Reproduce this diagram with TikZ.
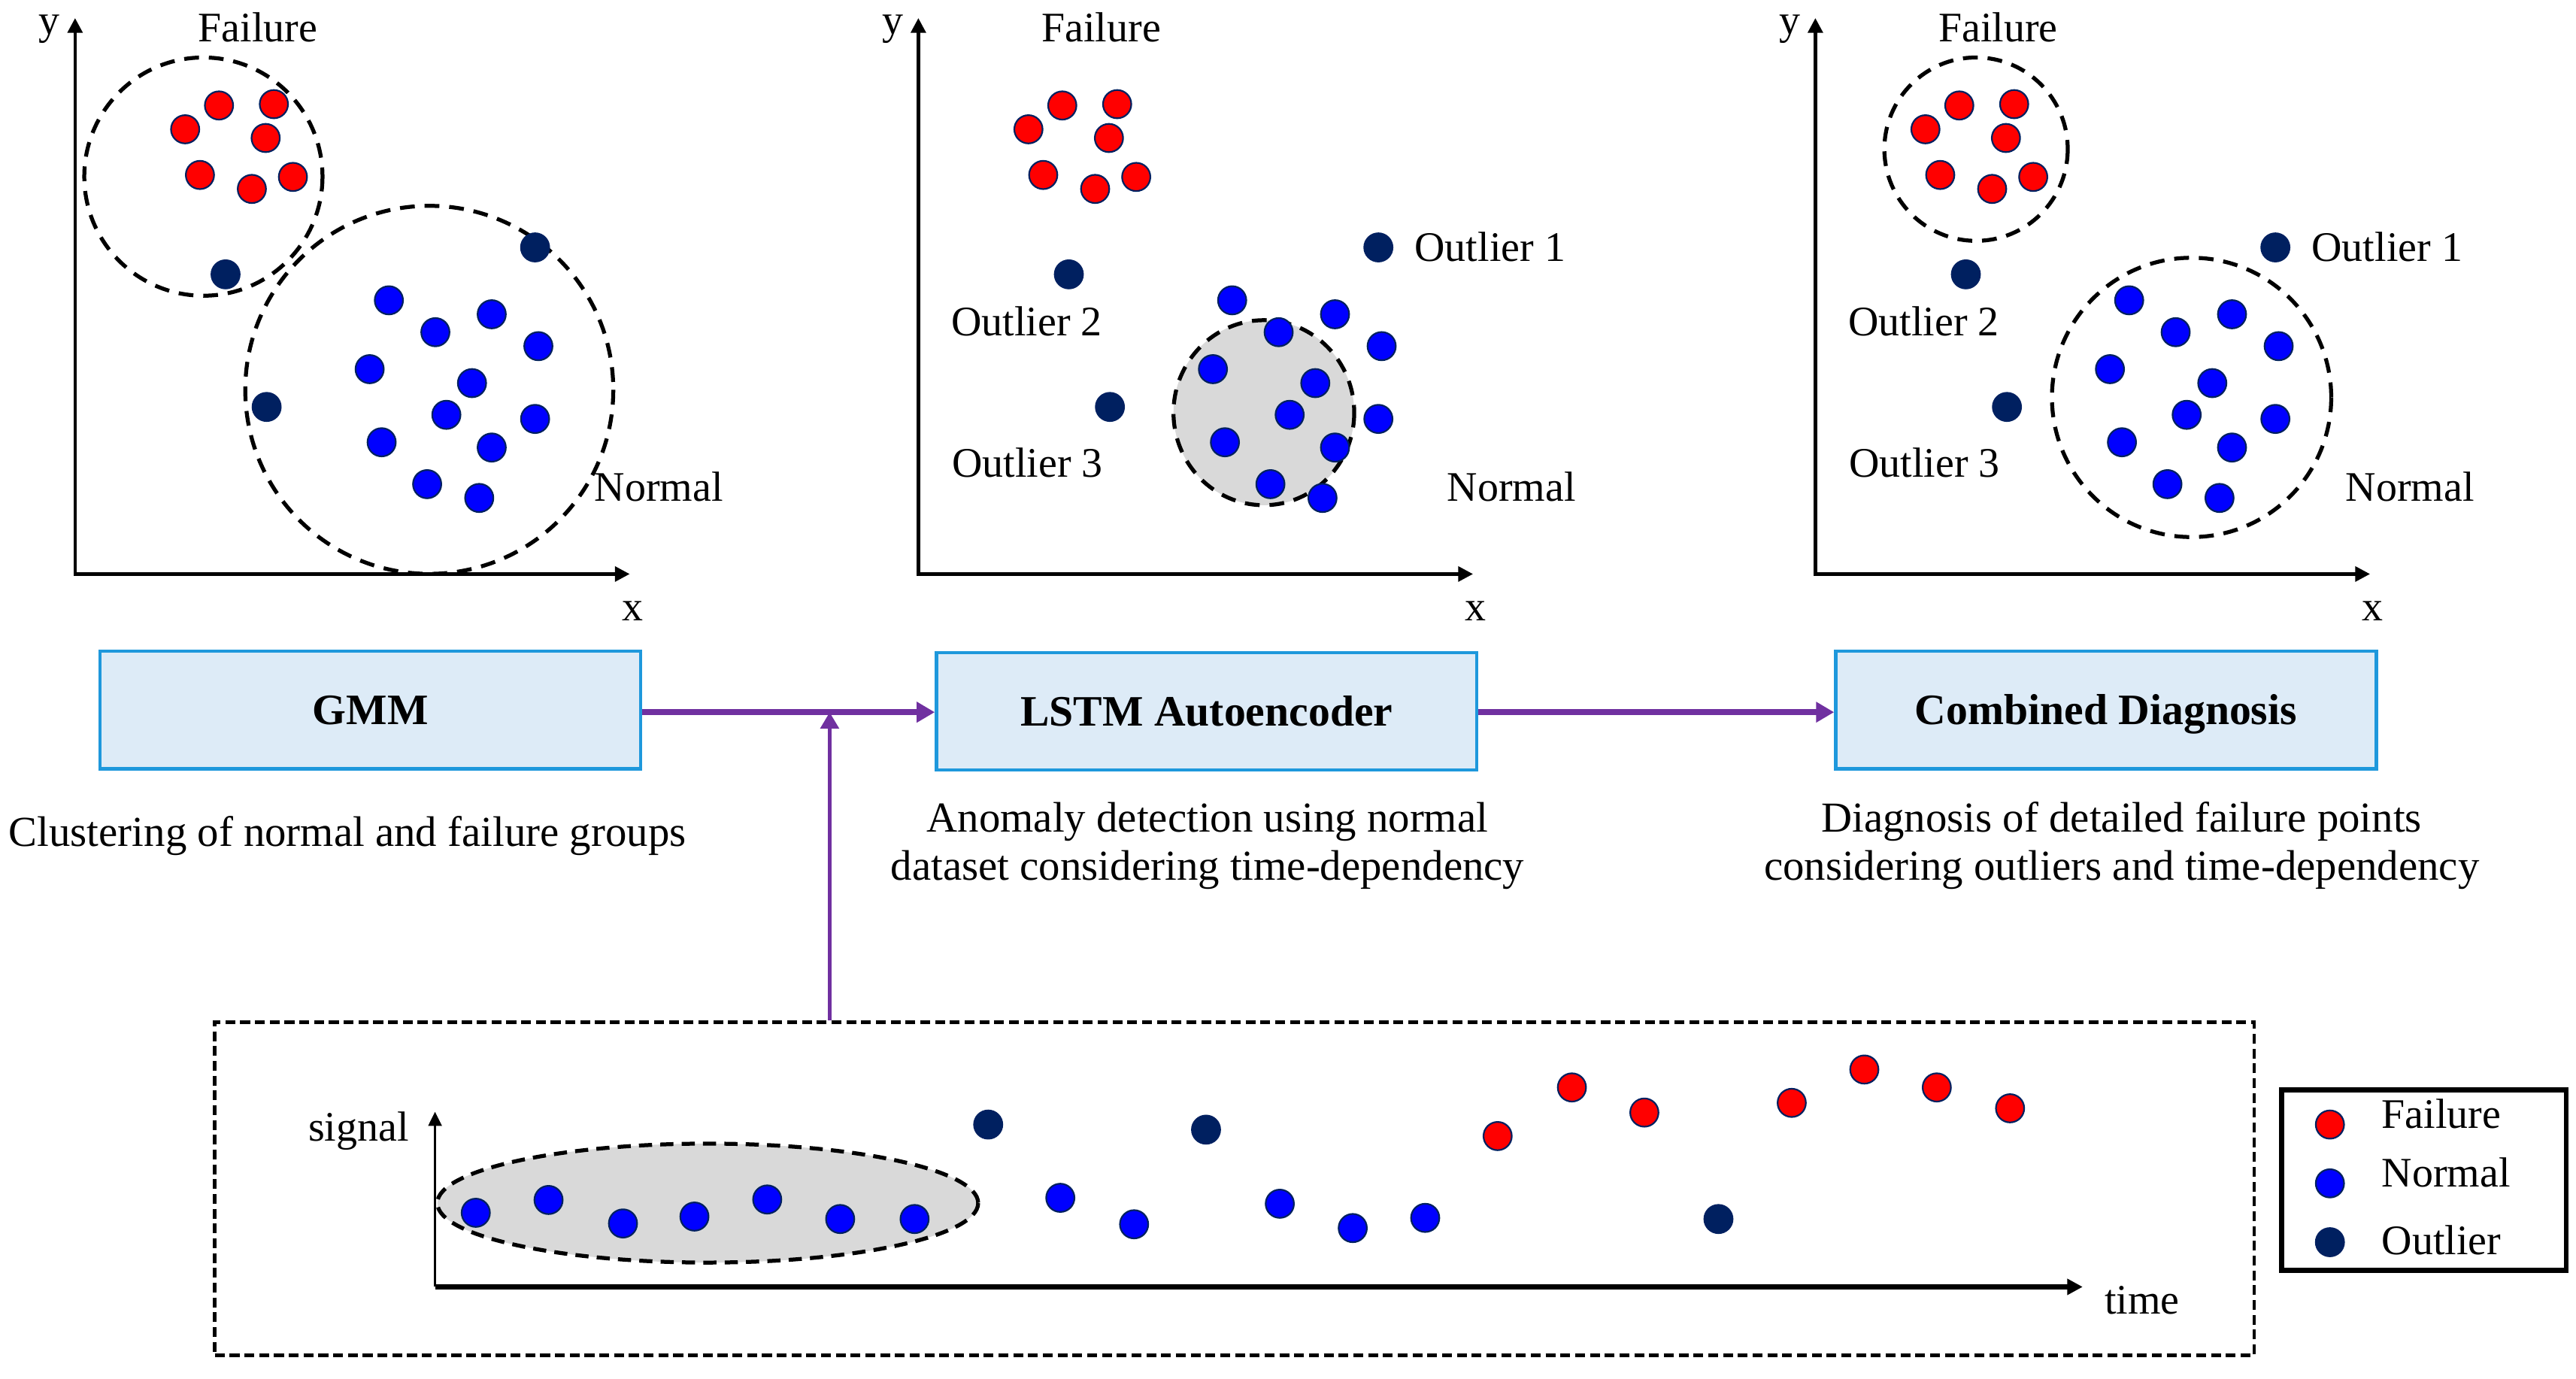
\documentclass[tikz,border=0pt]{standalone}
\usepackage{fontspec}
\setmainfont{Liberation Serif}
\usetikzlibrary{arrows.meta}
\definecolor{navy}{HTML}{002060}
\definecolor{purp}{HTML}{7030A0}
\definecolor{boxfill}{HTML}{DDEBF7}
\definecolor{boxline}{HTML}{1E98DC}
\definecolor{grayfill}{HTML}{D9D9D9}
\newcommand\mypanel[2]{%
 \begin{scope}[shift={(#2,0)}]
  \coordinate (#1o) at (45.7,349.4);
  \coordinate (#1yt) at (45.7,11);
  \coordinate (#1xt) at (383.3,349.4);
  \draw[axisline] (#1yt) -- (#1o) -- (#1xt);
  \node[lbl] (#1ylab) at (30,21) {y};
  \node[lbl] (#1xlab) at (385,378) {x};
  \node[lbl] (#1fail) at (157,25.5) {Failure};
  \foreach \p [count=\i] in {(133.3,64.2),(166.7,63.4),(112.7,78.7),(161.7,84),(121.7,106.5),(153.3,115),(178.3,107.7)}
    \node[fdot] (#1r\i) at \p {};
  \foreach \p [count=\i] in {(236.7,182.8),(299.3,191.3),(265,202.2),(327.7,210.7),(225,224.7),(287.3,233.2),(271.7,252.5),(325.7,255),(232.3,269.2),(299.3,272.4),(260,294.7),(291.7,303.1)}
    \node[ndot] (#1b\i) at \p {};
  \foreach \p [count=\i] in {(137.3,167),(325.7,150.6),(162.3,247.7)}
    \node[odot] (#1u\i) at \p {};
 \end{scope}}
\begin{document}
\begin{tikzpicture}[x=0.5pt,y=-0.5pt,
  lbl/.style={font=\fontsize{12.8pt}{14.5pt}\selectfont, inner sep=0pt, anchor=base},
  captext/.style={font=\fontsize{13pt}{14.5pt}\selectfont, inner sep=0pt, anchor=base, align=center},
  dotbase/.style={circle, inner sep=0pt, minimum size=8.6pt, draw=navy, line width=0.5pt},
  fdot/.style={dotbase, fill=red},
  ndot/.style={dotbase, fill=blue},
  odot/.style={dotbase, fill=navy},
  axisline/.style={line width=1pt, {Triangle[length=4.5pt,width=4.5pt]}-{Triangle[length=4.5pt,width=4.5pt]}},
  clus/.style={line width=1.2pt, dash pattern=on 4.5pt off 3pt},
  procbox/.style={draw=boxline, fill=boxfill, line width=1pt, minimum width=164.5pt, minimum height=35.8pt, inner sep=0pt, text height=8.9pt, text depth=0pt, font=\fontsize{13.2pt}{15pt}\selectfont\bfseries},
  parrow/.style={purp, line width=1.8pt, -{Triangle[length=5.5pt,width=6pt]}},
  pthin/.style={purp, line width=1.3pt, -{Triangle[length=5pt,width=5.5pt]}},
]
\useasboundingbox (0,0) rectangle (1568,839);

% cluster circles
\draw[clus] (123.8,107.5) circle [radius=72.5];
\draw[clus] (261.3,237.3) circle [radius=112];
\draw[clus, fill=grayfill] (769.3,251.2) ellipse [x radius=55, y radius=56.3];
\draw[clus] (1202.8,90.8) circle [radius=55.8];
\draw[clus] (1334,241.9) circle [radius=85];

% three panels
\mypanel{pa}{0}
\mypanel{pb}{513.3}
\mypanel{pc}{1059.3}

% panel labels
\node[lbl] (paN) at (401,305) {Normal};
\node[lbl] (pbO1) at (907,159) {Outlier 1};
\node[lbl] (pbO2) at (625,204.5) {Outlier 2};
\node[lbl] (pbO3) at (625.5,290.5) {Outlier 3};
\node[lbl] (pbN) at (920,305) {Normal};
\node[lbl] (pcO1) at (1453,159) {Outlier 1};
\node[lbl] (pcO2) at (1171,204.5) {Outlier 2};
\node[lbl] (pcO3) at (1171.5,290.5) {Outlier 3};
\node[lbl] (pcN) at (1467,305) {Normal};

% process boxes
\node[procbox] (gmm) at (225.5,432.1) {GMM};
\node[procbox] (lstm) at (734.5,433) {LSTM Autoencoder};
\node[procbox] (comb) at (1281.9,432.1) {Combined Diagnosis};

\node[captext] (cap1) at (211.5,514.9) {Clustering of normal and failure groups};
\node[captext] (cap2) at (735,535.5) {Anomaly detection using normal\\dataset considering time-dependency};
\node[captext] (cap3) at (1291.4,535.5) {Diagnosis of detailed failure points\\considering outliers and time-dependency};

% arrows
\coordinate (jn) at (505,433.5);
\draw[parrow] (gmm.east |- jn) -- (lstm.west |- jn);
\draw[parrow] (lstm.east |- jn) -- (comb.west |- jn);

% bottom signal box
\node[draw, line width=1.1pt, dash pattern=on 3pt off 1.5pt, minimum width=620.65pt, minimum height=101.4pt, inner sep=0pt] (sigbox) at (751.45,723.6) {};
\draw[pthin] (sigbox.north -| jn) -- (jn);

\draw[fill=grayfill, line width=1.2pt, dash pattern=on 4pt off 2.5pt] (430.8,732.3) ellipse [x radius=164.6, y radius=36.2];

\coordinate (so) at (264.8,783.3);
\coordinate (st) at (264.8,676.7);
\coordinate (tt) at (1267.7,783.3);
\draw[line width=0.8pt, -{Triangle[length=4.3pt,width=4pt]}] (so) -- (st);
\draw[line width=1.5pt, -{Triangle[length=4.7pt,width=4.7pt]}] (so) -- (tt);
\node[lbl] (sig) at (218.3,694.6) {signal};
\node[lbl] (tim) at (1303.8,799.7) {time};

\foreach \p [count=\i] in {(289.6,738.2),(333.9,730.4),(379.2,744.7),(422.7,740.5),(467,730.1),(511.4,742),(556.7,742),(645.4,729.1),(690.3,745.2),(779,732.7),(823.4,747.5),(867.5,741.3)}
  \node[ndot] (sb\i) at \p {};
\foreach \p [count=\i] in {(601.5,684.5),(734.1,687.6),(1046,742)}
  \node[odot] (so\i) at \p {};
\foreach \p [count=\i] in {(911.6,691.5),(956.8,661.9),(1000.9,677.2),(1090.6,671.3),(1134.8,651),(1178.9,661.9),(1223.5,674.6)}
  \node[fdot] (sr\i) at \p {};

% legend
\node[draw, line width=1.5pt, minimum width=86.65pt, minimum height=54.85pt, inner sep=0pt] (leg) at (1475.35,718.35) {};
\node[fdot] (lf) at (1418.2,684.5) {};
\node[ndot] (ln) at (1418.2,720.3) {};
\node[odot] (lo) at (1418.2,756.1) {};
\node[lbl, anchor=base west] (lft) at (1449.4,686.8) {Failure};
\node[lbl, anchor=base west] (lnt) at (1449.4,722.6) {Normal};
\node[lbl, anchor=base west] (lot) at (1449.4,763.8) {Outlier};
\end{tikzpicture}
\end{document}
